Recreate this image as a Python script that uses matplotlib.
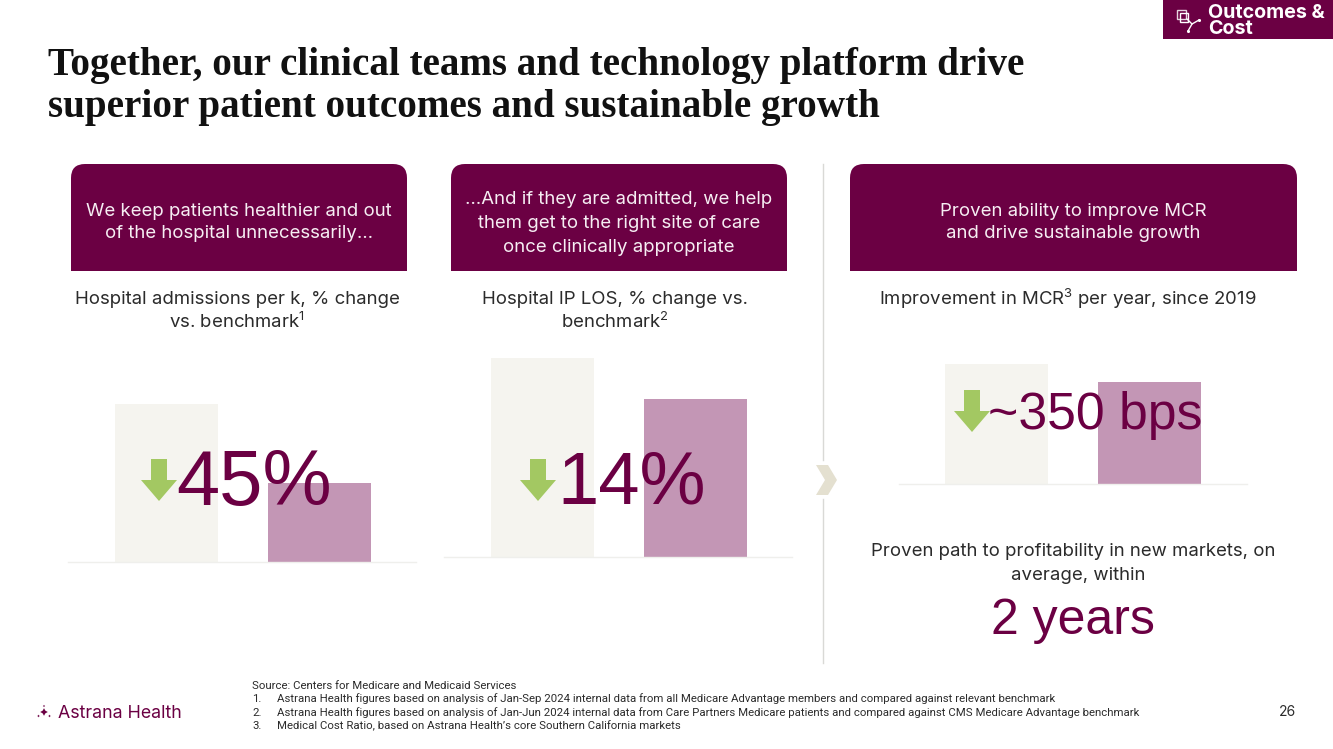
import matplotlib
matplotlib.use('Agg')
import matplotlib.pyplot as plt
from matplotlib.patches import Rectangle, Polygon, FancyBboxPatch

plt.rcParams['mathtext.default'] = 'regular'

W, H = 1333, 749
PLUM = '#6b0043'
DARK = '#2b2b2b'

# bar heights, benchmark first, Astrana second
categories = ['Benchmark', 'Astrana Health']
admissions = [100, 50]
los = [100, 79.4]
mcr = [100, 85]
bar_colors = ['#f5f4ef', '#c396b5']

fig = plt.figure(figsize=(W / 100, H / 100), dpi=100, facecolor='white')


def bar_panel(values, left, right, first, base, top):
    # all in pixels: first is the centre of bar 0, top is where the value 100 lands
    ax = fig.add_axes([left / W, 1 - base / H, (right - left) / W, (base - top) / H])
    x0 = (left - first) / 153
    ax.bar([0, 1], values, width=103 / 153, color=bar_colors)
    ax.set_xlim(x0, x0 + (right - left) / 153)
    ax.set_ylim(0, 100)
    ax.set_xticks([])
    ax.set_yticks([])
    for s in ['top', 'left', 'right']:
        ax.spines[s].set_visible(False)
    ax.spines['bottom'].set_color('#efefec')
    ax.spines['bottom'].set_linewidth(1)
    ax.patch.set_alpha(0)
    return ax


bar_panel(admissions, 68, 416, 166.5, 562, 404)
bar_panel(los, 444, 792, 542.5, 557, 358)
bar_panel(mcr, 899, 1247, 996, 484, 364)

# overlay in pixel coordinates for the slide furniture
ov = fig.add_axes([0, 0, 1, 1])
ov.set_xlim(0, W)
ov.set_ylim(H, 0)
ov.axis('off')
ov.patch.set_alpha(0)

# top right tag
ov.add_patch(Rectangle((1163, 0), 170, 39, color=PLUM, lw=0))
ov.text(1208, 12.5, 'Outcomes &', color='white', fontsize=14.2, family='Inter', weight='bold', va='center')
ov.text(1208, 29.5, 'Cost', color='white', fontsize=14.2, family='Inter', weight='bold', va='center')
ov.add_patch(Rectangle((1177, 10), 9, 9, fill=False, ec='#e6d5e0', lw=1))
ov.add_patch(Rectangle((1180, 13), 8, 9, fill=False, ec='white', lw=1))
ov.plot([1187, 1192, 1199], [19, 24, 20], color='white', lw=1)
ov.plot([1192, 1188], [24, 31], color='white', lw=1)
ov.scatter([1199, 1188], [20, 31], s=5, color='white', lw=0)

# title
for y, line in [(66, 'Together, our clinical teams and technology platform drive'),
                (108, 'superior patient outcomes and sustainable growth')]:
    ov.text(48, y, line, color='#111111', fontsize=28.2, family='Liberation Serif', weight='bold', va='center')

# header boxes
headers = [
    (71, 407, ['We keep patients healthier and out', 'of the hospital unnecessarily…'], [211, 233]),
    (451, 787, ['…And if they are admitted, we help', 'them get to the right site of care', 'once clinically appropriate'], [199, 223, 247]),
    (850, 1297, ['Proven ability to improve MCR', 'and drive sustainable growth'], [211, 233]),
]
for x0, x1, lines, ys in headers:
    ov.add_patch(FancyBboxPatch((x0 + 14, 164 + 14), x1 - x0 - 28, 60,
                                boxstyle='round,pad=14,rounding_size=14', color=PLUM, lw=0))
    ov.add_patch(Rectangle((x0, 230), x1 - x0, 41, color=PLUM, lw=0))
    for line, y in zip(lines, ys):
        ov.text((x0 + x1) / 2, y, line, color='#f6eef3', fontsize=13.4, family='Inter', ha='center', va='center')

# sub headers
subs = [
    (237, 299, 'Hospital admissions per k, % change'),
    (237, 322, 'vs. benchmark$^{1}$'),
    (615, 299, 'Hospital IP LOS, % change vs.'),
    (615, 322, 'benchmark$^{2}$'),
    (1068, 299, 'Improvement in MCR$^{3}$ per year, since 2019'),
    (1073, 551, 'Proven path to profitability in new markets, on'),
    (1078, 575, 'average, within'),
]
for x, y, s in subs:
    ov.text(x, y, s, color=DARK, fontsize=13.4, family='Inter', ha='center', va='center')

# big numbers
bigs = [(254, 485, '45%', 56), (631.5, 484, '14%', 53.5), (1095, 415, '~350 bps', 37.3), (1073, 621, '2 years', 36)]
for x, y, s, size in bigs:
    ov.text(x, y, s, color=PLUM, fontsize=size, family='Liberation Sans', ha='center', va='center')

# down arrows
for cx, top in [(159, 459), (538, 459), (972, 390)]:
    ov.add_patch(Polygon([(cx - 8, top), (cx + 8, top), (cx + 8, top + 21), (cx + 18, top + 21),
                          (cx, top + 42), (cx - 18, top + 21), (cx - 8, top + 21)],
                         color='#a3c862', lw=0))

# divider and chevron
ov.plot([823, 823], [164, 460], color='#d9d9d6', lw=1)
ov.plot([823, 823], [499, 663], color='#d9d9d6', lw=1)
ov.add_patch(Polygon([(816, 465), (828, 465), (837, 480), (828, 495), (816, 495), (825, 480)],
                     color='#e4e0d0', lw=0))

# footer
foot = [(686, None, 'Source: Centers for Medicare and Medicaid Services'),
        (699, '1.', 'Astrana Health figures based on analysis of Jan-Sep 2024 internal data from all Medicare Advantage members and compared against relevant benchmark'),
        (713, '2.', 'Astrana Health figures based on analysis of Jan-Jun 2024 internal data from Care Partners Medicare patients and compared against CMS Medicare Advantage benchmark'),
        (726, '3.', 'Medical Cost Ratio, based on Astrana Health’s core Southern California markets')]
for y, num, s in foot:
    if num:
        ov.text(252, y, num, color=DARK, fontsize=8.2, family='Roboto', va='center')
        ov.text(277, y, s, color=DARK, fontsize=8.2, family='Roboto', va='center')
    else:
        ov.text(252, y, s, color=DARK, fontsize=8.2, family='Roboto', va='center')
ov.text(1296, 712, '26', color=DARK, fontsize=10, family='Inter', ha='right', va='center')

# logo
ov.text(58, 713.5, 'Astrana Health', color=PLUM, fontsize=12.8, family='Inter', va='center')
ov.scatter([38.5, 44, 49.5, 44], [716, 712, 716, 706], s=[4, 30, 4, 3], color=PLUM,
           marker=(4, 1, 0), lw=0)

fig.savefig('out.png', dpi=100)
